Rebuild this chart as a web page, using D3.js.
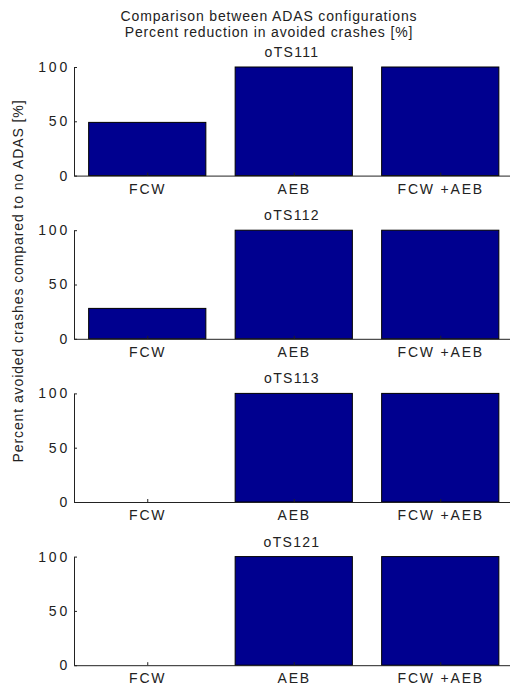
<!DOCTYPE html>
<html><head><meta charset="utf-8">
<script src="https://cdn.jsdelivr.net/npm/d3@7"></script>
<style>
body{margin:0;background:#fff;}
text{font-family:"Liberation Sans",Arial,sans-serif;fill:#222;}
</style></head>
<body><div id="chart"></div>
<script>
const titleLines = ["Comparison between ADAS configurations", "Percent reduction in avoided crashes [%]"];
const yLabel = "Percent avoided crashes compared to no ADAS [%]";
const categories = ["FCW", "AEB", "FCW +AEB"];
const scenarios = ["oTS111", "oTS112", "oTS113", "oTS121"];
const fcwValues = [49, 28, 0, 0];
const aebValues = [100, 100, 100, 100];
const fcwAebValues = [100, 100, 100, 100];
const yTicks = [0, 50, 100];

const W = 510, H = 685;
const svg = d3.select("#chart").append("svg").attr("width", W).attr("height", H);

const left = 74, right = 513.5;
const panelTop0 = 67, panelStep = 163.2, panelH = 108.6;

const x = d3.scaleLinear().domain([0.5, 3.5]).range([left, right]);
const barW = 0.8;

// main title
svg.append("text").attr("x", 269).attr("y", 21).attr("text-anchor", "middle")
  .style("font-size", "14px").style("letter-spacing", "0.85px").text(titleLines[0]);
svg.append("text").attr("x", 269).attr("y", 37).attr("text-anchor", "middle")
  .style("font-size", "14px").style("letter-spacing", "0.85px").text(titleLines[1]);

// y label
svg.append("text").attr("transform", "translate(23,281) rotate(-90)").attr("text-anchor", "middle")
  .style("font-size", "14px").style("letter-spacing", "0.9px").text(yLabel);

scenarios.forEach((s, i) => {
  const top = panelTop0 + i * panelStep;
  const y = d3.scaleLinear().domain([0, 100]).range([top + panelH, top]);
  const g = svg.append("g");
  const vals = [fcwValues[i], aebValues[i], fcwAebValues[i]];

  g.selectAll("rect").data(vals).enter().append("rect")
    .attr("x", (d, j) => x(j + 1 - barW / 2))
    .attr("width", x(1 + barW / 2) - x(1 - barW / 2))
    .attr("y", d => y(d))
    .attr("height", d => y(0) - y(d))
    .attr("fill", "#00008F")
    .attr("stroke", d => d > 0 ? "#000" : "none")
    .attr("stroke-width", 1);

  const ya = d3.axisLeft(y).tickValues(yTicks).tickSize(-3).tickSizeOuter(0).tickPadding(4);
  const yg = g.append("g").attr("transform", `translate(${left},0)`).call(ya);
  const xa = d3.axisBottom(x).tickValues([1, 2, 3]).tickFormat((d) => categories[d - 1])
    .tickSize(-3).tickSizeOuter(0).tickPadding(8);
  const xg = g.append("g").attr("transform", `translate(0,${top + panelH})`).call(xa);
  [yg, xg].forEach(a => {
    a.selectAll("text").style("font-size", "14px").style("font-family", "'Liberation Sans',Arial,sans-serif").attr("fill", "#222");
    a.select(".domain").attr("stroke", "#222");
    a.selectAll(".tick line").attr("stroke", "#222");
  });
  yg.selectAll("text").style("letter-spacing", "2.8px");
  xg.selectAll("text").style("letter-spacing", "1.8px");

  g.append("text").attr("x", 292).attr("y", top - 10).attr("text-anchor", "middle")
    .style("font-size", "14px").style("letter-spacing", "1.3px").text(s);
});
</script></body></html>
